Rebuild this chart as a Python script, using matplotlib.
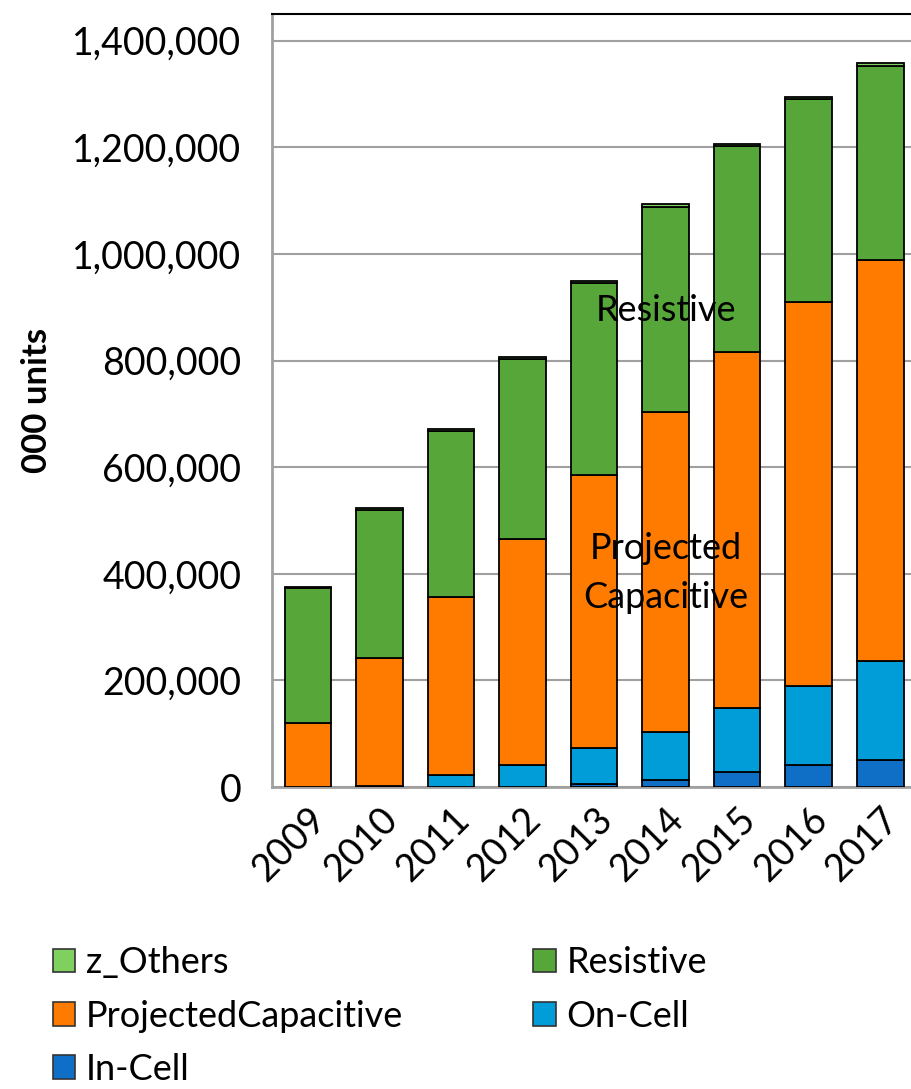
import matplotlib
matplotlib.use("Agg")
import matplotlib.pyplot as plt
from matplotlib.patches import Patch
from matplotlib.ticker import FuncFormatter
import numpy as np

years = ["2009", "2010", "2011", "2012", "2013", "2014", "2015", "2016", "2017"]
in_cell = [0, 0, 0, 0, 5000, 13000, 28000, 41000, 51000]
on_cell = [0, 2000, 22000, 41000, 68000, 90000, 120000, 149000, 185000]
projected_cap = [120000, 240000, 335000, 424000, 512000, 600000, 668000, 720000, 752000]
resistive = [253000, 278000, 310000, 337000, 360000, 385000, 386000, 380000, 365000]
z_others = [2000, 4000, 4000, 4000, 4000, 5000, 4000, 4000, 5000]

series = [
    ("In-Cell", in_cell, "#0F6FC6"),
    ("On-Cell", on_cell, "#009DD9"),
    ("ProjectedCapacitive", projected_cap, "#FF7B00"),
    ("Resistive", resistive, "#57A63A"),
    ("z_Others", z_others, "#7FD05F"),
]

plt.rcParams["font.family"] = ["Lato", "DejaVu Sans"]

fig = plt.figure(figsize=(9.11, 10.89), dpi=100)
ax = fig.add_axes([0.2986, 0.2773, 0.707, 0.7098])

x = np.arange(len(years))
bottom = np.zeros(len(years))
for name, vals, color in series:
    v = np.array(vals, dtype=float)
    ax.bar(x, v, bottom=bottom, width=0.65, color=color, edgecolor="black",
           linewidth=1.3, label=name, zorder=3)
    bottom += v

ax.set_xlim(-0.5, len(years) - 0.5)
ax.set_ylim(0, 1450000)
ax.set_yticks(np.arange(0, 1400001, 200000))
ax.yaxis.set_major_formatter(FuncFormatter(lambda v, p: f"{int(v):,}"))
ax.grid(axis="y", color="#A0A0A0", linewidth=1.5, zorder=0)
ax.tick_params(axis="y", length=0, pad=22, labelsize=27)
ax.tick_params(axis="x", length=0, pad=10, labelsize=27)
ax.set_xticks(x)
ax.set_xticklabels(years, rotation=45, ha="right", rotation_mode="anchor")

for side in ("left", "bottom"):
    ax.spines[side].set_color("#A0A0A0")
    ax.spines[side].set_linewidth(2)
ax.spines["top"].set_color("black")
ax.spines["top"].set_linewidth(1.5)
ax.spines["right"].set_visible(False)

ax.set_ylabel("000 units", fontsize=25, fontweight="bold", labelpad=14)

ax.text(5, 893000, "Resistive", ha="center", va="center", fontsize=26, zorder=5)
ax.text(5, 448000, "Projected", ha="center", va="center", fontsize=26, zorder=5)
ax.text(5, 355000, "Capacitive", ha="center", va="center", fontsize=26, zorder=5)

handles = {name: Patch(facecolor=color, edgecolor="#333333", linewidth=1.2)
           for name, _, color in series}
order = ["z_Others", "ProjectedCapacitive", "In-Cell", "Resistive", "On-Cell"]
fig.legend([handles[n] for n in order], order, loc="upper left",
           bbox_to_anchor=(0.058, 0.131), ncol=2, frameon=False, fontsize=26,
           handlelength=0.62, handleheight=0.62, handletextpad=0.3,
           columnspacing=3.6, labelspacing=0.56, borderaxespad=0,
           borderpad=0)

fig.savefig("out.png", dpi=100)
